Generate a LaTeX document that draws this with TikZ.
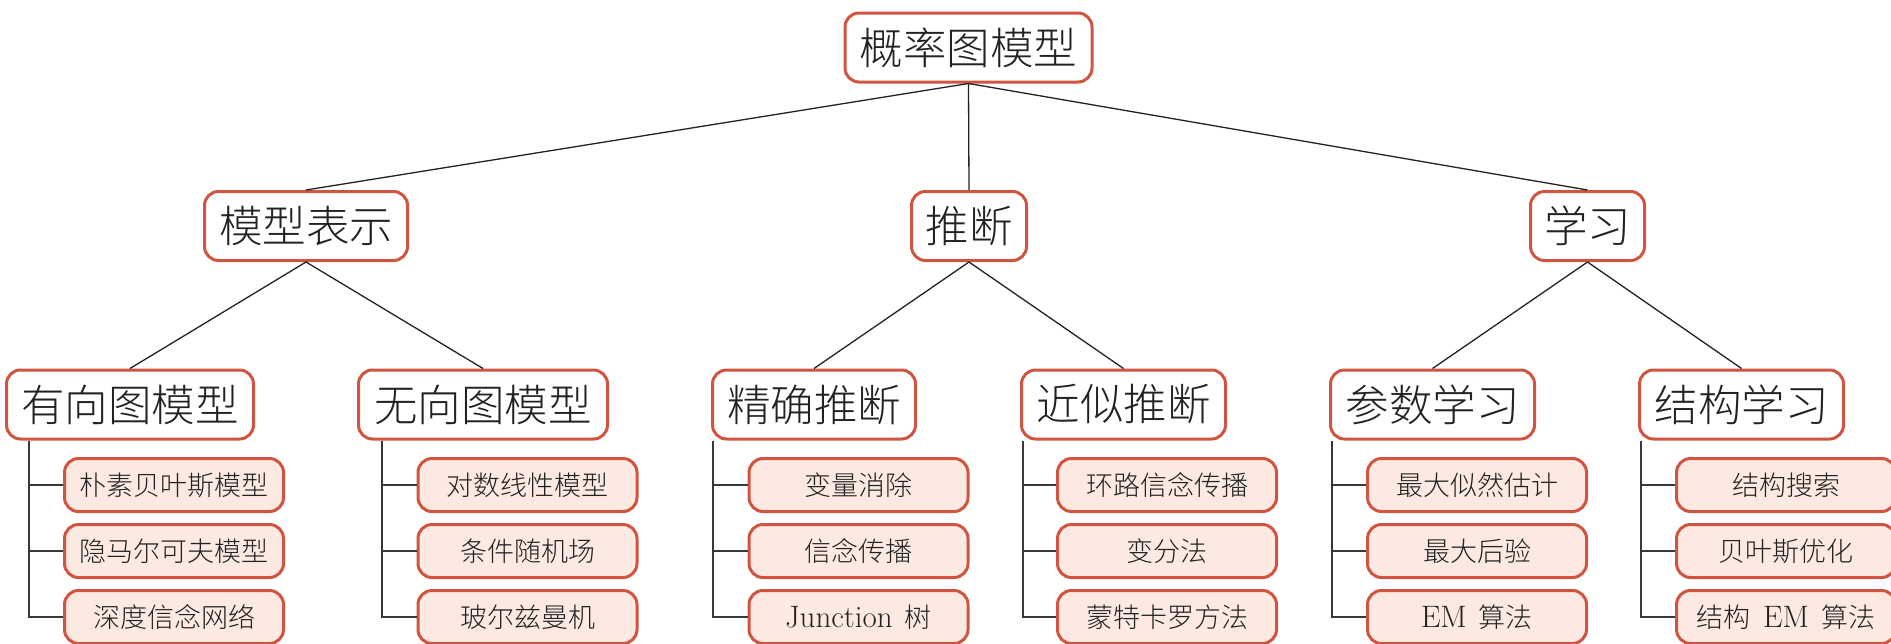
\documentclass[tikz,border=0pt]{standalone}
\usepackage{fontspec}
\newfontfamily\cjk{Noto Sans CJK SC}[UprightFont={* Light}]
\definecolor{bordc}{HTML}{CF5540}
\definecolor{fillc}{HTML}{FCEAE2}
\definecolor{textc}{HTML}{222222}
\newcommand{\lat}[1]{{\rmfamily\fontsize{15.5}{18}\selectfont #1}}
\begin{document}
\begin{tikzpicture}[x=0.5pt,y=-0.5pt,
  bigbox/.style={draw=bordc, line width=1.5pt, rounded corners=7pt, fill=white,
    minimum height=34.5pt, inner sep=0pt, text=textc,
    font=\cjk\fontsize{21.75}{26}\selectfont},
  leafbox/.style={draw=bordc, line width=1.5pt, rounded corners=7pt, fill=fillc,
    minimum width=109.5pt, minimum height=26.5pt, inner sep=0pt, text=textc,
    font=\cjk\fontsize{13.5}{16}\selectfont},
  conn/.style={draw=textc, line width=0.65pt},
  brk/.style={draw=textc!90, line width=1pt}]
\useasboundingbox (0,0) rectangle (1891,643);
% root
\node[bigbox, minimum width=123.5pt] (root) at (968.5,47.5) {概率图模型};
% level 1
\node[bigbox, minimum width=101.5pt] (rep) at (306,226) {模型表示};
\node[bigbox, minimum width=57.5pt] (inf) at (969,226) {推断};
\node[bigbox, minimum width=57pt] (lrn) at (1587.5,226) {学习};
% level 2
\node[bigbox, minimum width=123.5pt] (dir) at (130,404.5) {有向图模型};
\node[bigbox, minimum width=124.5pt] (und) at (483,404.5) {无向图模型};
\node[bigbox, minimum width=101.5pt] (exa) at (814,404.5) {精确推断};
\node[bigbox, minimum width=102pt] (apx) at (1123.5,404.5) {近似推断};
\node[bigbox, minimum width=102pt] (par) at (1432.5,404.5) {参数学习};
\node[bigbox, minimum width=102pt] (str) at (1741.5,404.5) {结构学习};
% connectors
\draw[conn] (root.south) -- (rep.north);
\draw[conn] (root.south) -- (inf.north);
\draw[conn] (root.south) -- (lrn.north);
\draw[conn] (rep.south) -- (dir.north);
\draw[conn] (rep.south) -- (und.north);
\draw[conn] (inf.south) -- (exa.north);
\draw[conn] (inf.south) -- (apx.north);
\draw[conn] (lrn.south) -- (par.north);
\draw[conn] (lrn.south) -- (str.north);
% leaves
\node[leafbox] (d1) at (174,485) {朴素贝叶斯模型};
\node[leafbox] (d2) at (174,551) {隐马尔可夫模型};
\node[leafbox] (d3) at (174,617) {深度信念网络};
\node[leafbox] (u1) at (527.5,485) {对数线性模型};
\node[leafbox] (u2) at (527.5,551) {条件随机场};
\node[leafbox] (u3) at (527.5,617) {玻尔兹曼机};
\node[leafbox] (e1) at (858.5,485) {变量消除};
\node[leafbox] (e2) at (858.5,551) {信念传播};
\node[leafbox] (e3) at (858.5,617) {\lat{Junction}\hspace{0.45em}树};
\node[leafbox] (a1) at (1167,485) {环路信念传播};
\node[leafbox] (a2) at (1167,551) {变分法};
\node[leafbox] (a3) at (1167,617) {蒙特卡罗方法};
\node[leafbox] (p1) at (1477,485) {最大似然估计};
\node[leafbox] (p2) at (1477,551) {最大后验};
\node[leafbox] (p3) at (1477,617) {\lat{EM}\hspace{0.45em}算法};
\node[leafbox] (s1) at (1786,485) {结构搜索};
\node[leafbox] (s2) at (1786,551) {贝叶斯优化};
\node[leafbox] (s3) at (1786,617) {结构\hspace{0.45em}\lat{EM}\hspace{0.45em}算法};
% bracket starts
\coordinate (vd) at (29,441);
\coordinate (vu) at (382,441);
\coordinate (ve) at (713,441);
\coordinate (va) at (1023,441);
\coordinate (vp) at (1332,441);
\coordinate (vs) at (1641,441);
\foreach \v/\c in {vd/d,vu/u,ve/e,va/a,vp/p,vs/s}{
  \draw[brk] (\v) |- (\c1.west);
  \draw[brk] (\v) |- (\c2.west);
  \draw[brk] (\v) |- (\c3.west);
}
\end{tikzpicture}
\end{document}
